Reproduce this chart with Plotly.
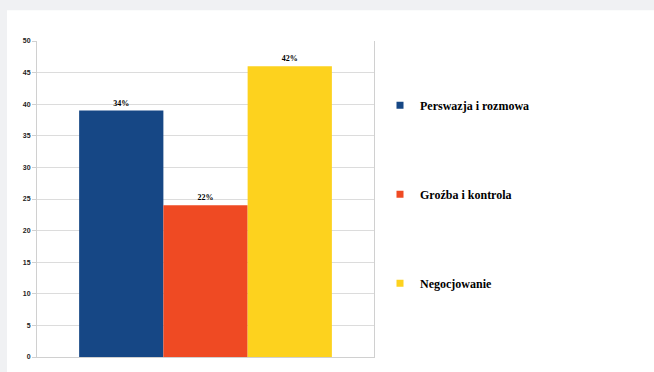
import plotly.graph_objects as go

categories = ["Perswazja i rozmowa", "Groźba i kontrola", "Negocjowanie"]
values = [39, 24, 46]
labels = ["34%", "22%", "42%"]
colors = ["#164785", "#ef4a23", "#fdd21e"]
y_ticks = [0, 5, 10, 15, 20, 25, 30, 35, 40, 45, 50]

W, H = 654, 372
L, R, T, B = 37, 280, 41, 13
pw, ph = W - L - R, H - T - B

fig = go.Figure()
for i, (name, v, lab, c) in enumerate(zip(categories, values, labels, colors)):
    fig.add_trace(go.Bar(
        x=[""], y=[v], name=name, marker=dict(color=c, line=dict(width=0)),
        text=[lab], textposition="outside", cliponaxis=False,
        textfont=dict(family="Liberation Serif", size=8, color="#000", weight="bold"),
        showlegend=False,
    ))
for i, (name, c) in enumerate(zip(categories, colors)):
    fig.add_trace(go.Scatter(
        x=[None], y=[None], mode="markers", name=name,
        marker=dict(symbol="square", size=7, color=c),
        legendgroup=f"g{i}",
    ))

def px_x(x):
    return (x - L) / pw

def px_y(y):
    return (H - B - y) / ph

fig.add_shape(type="rect", xref="paper", yref="paper",
              x0=px_x(7), x1=px_x(W + 5), y0=px_y(H + 5), y1=px_y(10),
              fillcolor="white", line=dict(width=0), layer="below")

fig.update_layout(
    width=W, height=H,
    margin=dict(l=L, r=R, t=T, b=B),
    paper_bgcolor="#f0f1f3", plot_bgcolor="rgba(0,0,0,0)",
    barmode="group", bargap=0.25, bargroupgap=0,
    showlegend=True,
    legend=dict(x=px_x(380), y=px_y(91), xanchor="left", yanchor="top",
                traceorder="grouped", tracegroupgap=70, itemsizing="trace",
                font=dict(family="Liberation Serif", size=12, color="#000", weight="bold"),
                itemwidth=30, bgcolor="rgba(0,0,0,0)"),
    xaxis=dict(showticklabels=False, showgrid=False, showline=True,
               linecolor="#d0d0d0", linewidth=1, fixedrange=True),
    yaxis=dict(range=[0, 50], tickvals=y_ticks, showgrid=True, gridcolor="#dcdcdc",
               showline=True, mirror=True, linecolor="#d0d0d0", linewidth=1,
               ticks="outside", ticklen=4, tickcolor="#d0d0d0",
               tickfont=dict(family="Liberation Sans", size=7, color="#222", weight="bold"),
               zeroline=False),
)

fig.write_html("out.html")
